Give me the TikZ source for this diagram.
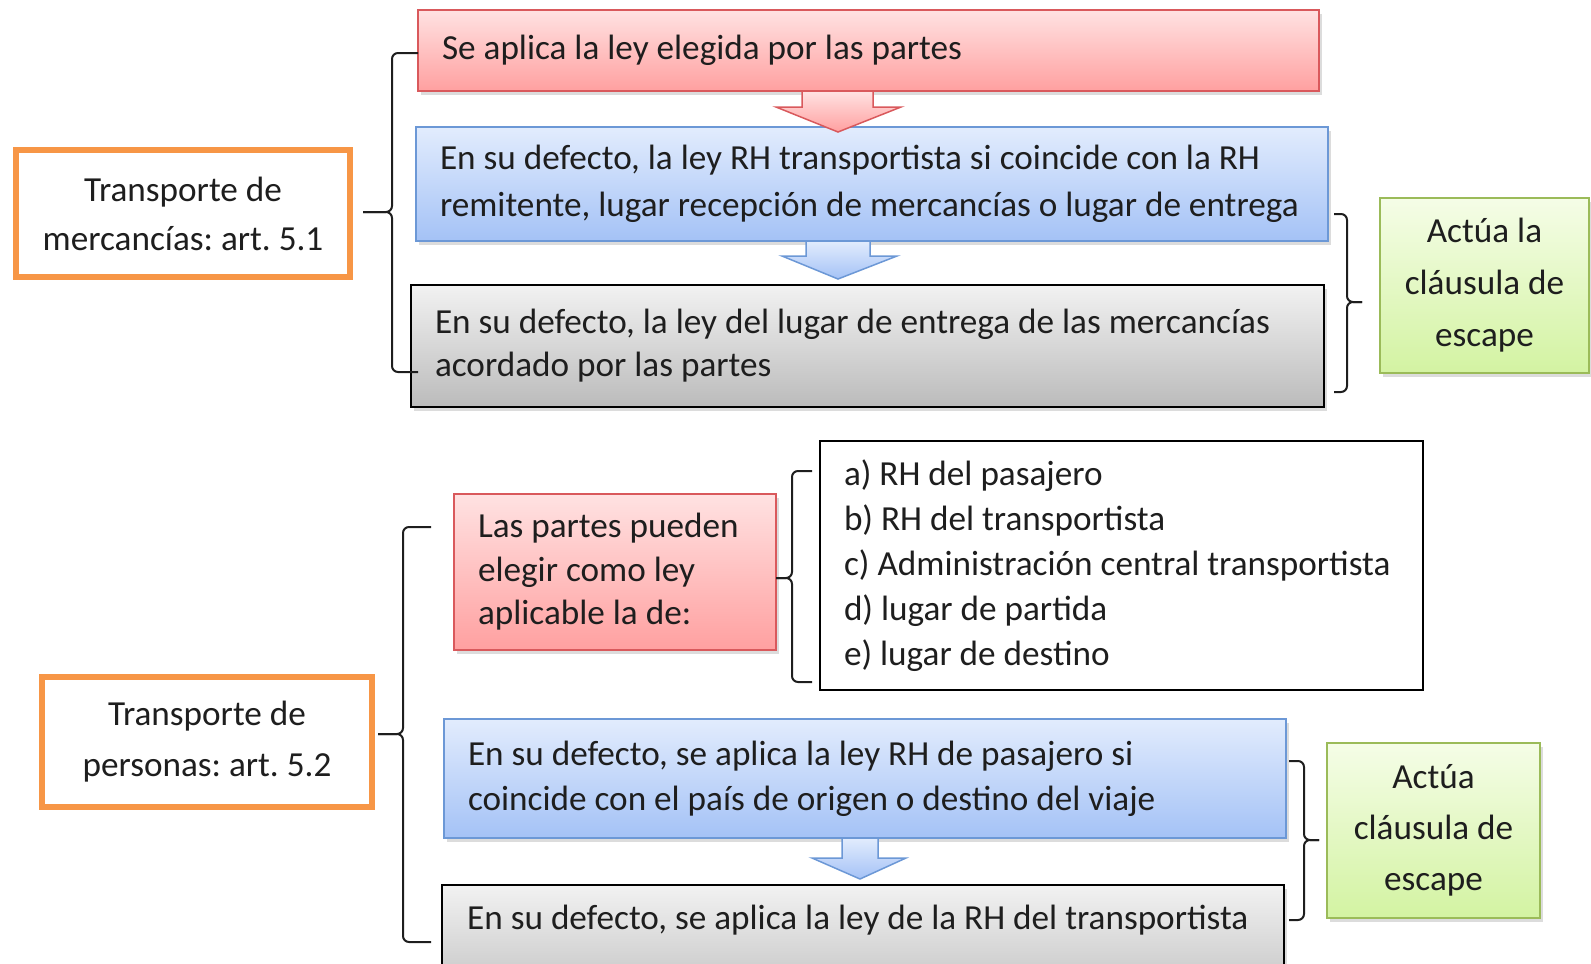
\documentclass[tikz,border=0pt]{standalone}
\usepackage{fontspec}
\setmainfont{Carlito}
\frenchspacing
\usetikzlibrary{shadows,calc}
\definecolor{orng}{HTML}{F79646}
\definecolor{redtop}{HTML}{FFE2E2}
\definecolor{redbot}{HTML}{FFA0A0}
\definecolor{redline}{HTML}{D9595C}
\definecolor{bluetop}{HTML}{E2ECFD}
\definecolor{bluebot}{HTML}{A4C2F6}
\definecolor{blueline}{HTML}{6C98D6}
\definecolor{graytop}{HTML}{F2F2F2}
\definecolor{graybot}{HTML}{BBBBBB}
\definecolor{greentop}{HTML}{F5FDE7}
\definecolor{greenbot}{HTML}{D3F3A2}
\definecolor{greenline}{HTML}{9BBB59}
\definecolor{ink}{HTML}{1E1E1E}
\tikzset{
  base/.style={anchor=north west, inner xsep=24pt, inner ysep=0pt, align=flush left, text=ink},
  fs/.style={font=\fontsize{35.2}{#1}\selectfont},
  shd/.style={drop shadow={opacity=0.28, shadow xshift=3pt, shadow yshift=-4pt}},
  redbox/.style={base, shd, draw=redline, line width=2pt, top color=redtop, bottom color=redbot},
  bluebox/.style={base, shd, draw=blueline, line width=2pt, top color=bluetop, bottom color=bluebot},
  graybox/.style={base, shd, draw=black, line width=2pt, top color=graytop, bottom color=graybot},
  greenbox/.style={base, shd, draw=greenline, line width=2pt, top color=greentop, bottom color=greenbot, align=flush center, inner xsep=8pt},
  orangebox/.style={base, draw=orng, line width=6pt, fill=white, align=flush center, inner xsep=8pt},
  listbox/.style={base, draw=black, line width=2pt, fill=white},
  brc/.style={draw=ink, line width=2pt, rounded corners=6pt},
  redarrow/.style={draw=redline, line width=1.5pt, top color=redtop, bottom color=redbot, line join=miter},
  bluearrow/.style={draw=blueline, line width=1.5pt, top color=bluetop, bottom color=bluebot, line join=miter}
}
\begin{document}
\begin{tikzpicture}[x=1pt,y=-1pt]
\useasboundingbox (0,0) rectangle (1591,964);
\clip (0,0) rectangle (1591,964);

% ---------- top section ----------
\node[orangebox, fs=49, text width=318pt, minimum height=127pt] (o1) at (13,147)
  {Transporte de\\mercancías: art. 5.1};

\node[redbox, fs=46, text width=853pt, minimum height=81pt] (r1) at (417,9)
  {Se aplica la ley elegida por las partes};
\node[bluebox, fs=47, text width=864pt, minimum height=114pt] (b1) at (415,126)
  {En su defecto, la ley RH transportista si coincide con la RH\\remitente, lugar recepción de mercancías o lugar de entrega};
\node[graybox, fs=43, text width=865pt, minimum height=122pt] (g1) at (410,284)
  {En su defecto, la ley del lugar de entrega de las mercancías\\acordado por las partes};
\node[greenbox, fs=52, text width=193pt, minimum height=175pt] (e1) at (1379,197)
  {Actúa la\\cláusula de\\escape};

% block arrows
\draw[redarrow] (802,91) -- (873,91) -- (873,107) -- (901,107) -- (838,132) -- (776,107) -- (802,107) -- cycle;
\draw[bluearrow] (806,241) -- (870,241) -- (870,256) -- (897,256) -- (838,279) -- (782,256) -- (806,256) -- cycle;

% braces
\coordinate (t1a) at (418,53);
\coordinate (t1b) at (418,372);
\coordinate (t1c) at (363,212);
\draw[brc] (t1a) -- (392,53) -- (392,212) -- (t1c);
\draw[brc] (t1b) -- (392,372) -- (392,212) -- (t1c);

\coordinate (s1a) at (1334,214);
\coordinate (s1b) at (1334,392);
\coordinate (s1c) at (1362,302);
\draw[brc] (s1a) -- (1347,214) -- (1347,302) -- (s1c);
\draw[brc] (s1b) -- (1347,392) -- (1347,302) -- (s1c);

% ---------- bottom section ----------
\node[orangebox, fs=51, text width=314pt, minimum height=130pt] (o2) at (39,674)
  {Transporte de\\personas: art. 5.2};

\node[redbox, fs=43.5, text width=274pt, minimum height=156pt] (r2) at (453,493)
  {Las partes pueden\\elegir como ley\\aplicable la de:};
\node[listbox, fs=44.9, text width=555pt, minimum height=249pt] (l2) at (819,440)
  {a) RH del pasajero\\b) RH del transportista\\c) Administración central transportista\\d) lugar de partida\\e) lugar de destino};
\node[bluebox, fs=44.6, text width=794pt, minimum height=119pt] (b2) at (443,718)
  {En su defecto, se aplica la ley RH de pasajero si\\coincide con el país de origen o destino del viaje};
\node[graybox, fs=43, text width=794pt, minimum height=130pt] (g2) at (441,884) {};
\node[anchor=west, inner sep=0pt, text=ink, font=\fontsize{35.2}{43}\selectfont] (g2t) at ($(g2.north west)+(26,36)$)
  {En su defecto, se aplica la ley de la RH del transportista};
\node[greenbox, fs=51, text width=197pt, minimum height=175pt] (e2) at (1326,742)
  {Actúa\\cláusula de\\escape};

\draw[bluearrow] (842,838) -- (878,838) -- (878,858) -- (906,858) -- (860,879) -- (812,858) -- (842,858) -- cycle;

\coordinate (t2a) at (431,527);
\coordinate (t2b) at (431,942);
\coordinate (t2c) at (378,734);
\draw[brc] (t2a) -- (403,527) -- (403,734) -- (t2c);
\draw[brc] (t2b) -- (403,942) -- (403,734) -- (t2c);

\coordinate (t3a) at (812,471);
\coordinate (t3b) at (812,682);
\coordinate (t3c) at (776,578);
\draw[brc] (t3a) -- (792,471) -- (792,578) -- (t3c);
\draw[brc] (t3b) -- (792,682) -- (792,578) -- (t3c);

\coordinate (s2a) at (1289,761);
\coordinate (s2b) at (1289,920);
\coordinate (s2c) at (1319,840);
\draw[brc] (s2a) -- (1304,761) -- (1304,840) -- (s2c);
\draw[brc] (s2b) -- (1304,920) -- (1304,840) -- (s2c);
\end{tikzpicture}
\end{document}
